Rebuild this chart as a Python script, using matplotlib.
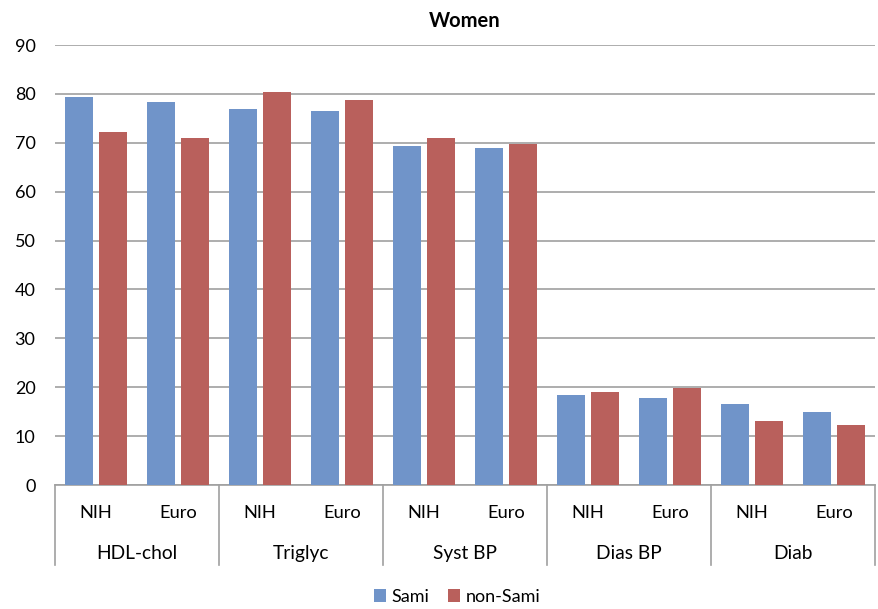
import matplotlib
matplotlib.use("Agg")
import matplotlib.pyplot as plt
import matplotlib.transforms as mtransforms
import numpy as np

plt.rcParams['font.family'] = ['Lato', 'DejaVu Sans']

groups = ["HDL-chol", "Triglyc", "Syst BP", "Dias BP", "Diab"]
subs = ["NIH", "Euro"]
sami = [79.4, 78.3, 77.0, 76.4, 69.4, 69.0, 18.4, 17.7, 16.5, 14.9]
non_sami = [72.3, 71.0, 80.3, 78.8, 71.0, 69.7, 19.0, 19.8, 13.0, 12.2]
yticks = [0, 10, 20, 30, 40, 50, 60, 70, 80, 90]

blue = "#7094C9"
red = "#B9605C"

fig = plt.figure(figsize=(8.79, 6.09), dpi=100)
ax = fig.add_axes([55/879, 1-485/609, 820/879, 440/609])

n = len(sami)
x = np.arange(n)
w = 0.33
gap = 0.085
ax.bar(x - (w+gap)/2, sami, width=w, color=blue, label="Sami", zorder=3)
ax.bar(x + (w+gap)/2, non_sami, width=w, color=red, label="non-Sami", zorder=3)

ax.set_xlim(-0.5, n - 0.5)
ax.set_ylim(0, 90)
ax.set_yticks(yticks)
ax.tick_params(axis='y', length=0, labelsize=13, pad=14)
ax.set_xticks([])
ax.yaxis.grid(True, color="#A0A0A0", linewidth=1.2, zorder=0)
for s in ["top", "right", "left"]:
    ax.spines[s].set_visible(False)
ax.spines["bottom"].set_color("#A0A0A0")
ax.spines["bottom"].set_linewidth(1.2)

trans = mtransforms.blended_transform_factory(ax.transData, ax.transAxes)
# sub labels
for i in range(n):
    ax.text(x[i], -0.063, subs[i % 2], transform=trans, ha='center', va='center',
            fontsize=13.2, color="#000000")
# group labels
for g in range(len(groups)):
    ax.text(2*g + 0.5, -0.155, groups[g], transform=trans, ha='center', va='center',
            fontsize=13.8, color="#000000")
# separators
for g in range(len(groups) + 1):
    xb = 2*g - 0.5
    ax.plot([xb, xb], [0, -0.182], transform=trans, color="#A0A0A0",
            linewidth=1.2, clip_on=False)

ax.set_title("Women", fontsize=14.5, fontweight='bold', pad=13)

leg = fig.legend(loc='center', bbox_to_anchor=(457/879, 1-597/609), ncol=2,
                 frameon=False, fontsize=13, handlelength=0.7, handleheight=0.7,
                 handletextpad=0.3, columnspacing=1.0)

fig.savefig("out.png", dpi=100)
